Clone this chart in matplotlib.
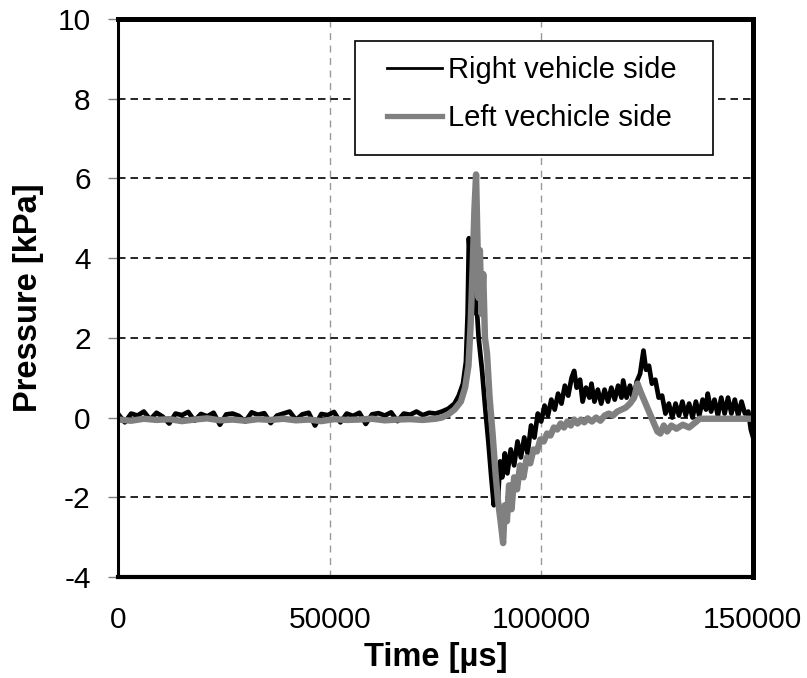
import numpy as np
import matplotlib
matplotlib.use("Agg")
from matplotlib import pyplot as plt
from matplotlib.patches import Rectangle

plt.rcParams['font.family'] = ['Liberation Sans', 'DejaVu Sans']

# time in ms (x1000 -> µs)
t_right_ms = [0, 1.5, 3, 4.5, 6, 7.5, 9, 10.5, 12, 13.5,
              15, 16.5, 18, 19.5, 21, 22.5, 24, 25.5, 27, 28.5,
              30, 31.5, 33, 34.5, 36, 37.5, 39, 40.5, 42, 43.5,
              45, 46.5, 48, 49.5, 51, 52.5, 54, 55.5, 57, 58.5,
              60, 61.5, 63, 64.5, 66, 67.5, 69, 70.5, 72, 73.5, 75,
              76.5, 78, 79.5, 80.5, 81.5, 82.2, 82.6, 82.9, 83.3, 83.8,
              84.5, 85.2, 86.0, 86.8, 87.5, 88.2, 88.8, 89.3, 89.8, 90.3,
              90.8, 91.4, 92.0, 92.8, 93.6, 94.4, 95.2, 96.0, 96.8, 97.6,
              98.4, 99.2, 100.0, 100.8, 101.6, 102.4, 103.2, 104.0, 104.8, 105.6,
              106.4, 107.2, 107.8, 108.4, 109.2, 109.8, 110.6, 111.4, 111.9, 112.6,
              113.4, 114.2, 115.0, 115.8, 116.6, 117.4, 118.2, 119.0, 119.4, 120.2,
              121.0, 121.8, 122.6, 123.4, 124.2, 124.8, 125.5, 126.2, 127.0, 127.8,
              128.6, 129.4, 130.2, 131.0, 131.8, 132.6, 133.4, 134.2, 135.0, 135.8,
              136.6, 137.4, 138.2, 139.0, 139.4, 140.2, 141.0, 141.8, 142.6, 143.4,
              144.2, 145.0, 145.8, 146.6, 147.4, 148.2, 149.0, 149.6, 150.0]
p_right = [0.08, -0.12, 0.10, 0.05, 0.15, -0.05, 0.12, 0.02, -0.15, 0.10,
           0.06, 0.14, -0.08, 0.09, 0.03, 0.12, -0.18, 0.08, 0.10, 0.04,
           -0.10, 0.13, 0.07, 0.11, -0.14, 0.05, 0.10, 0.15, -0.06, 0.08,
           0.12, -0.20, 0.09, 0.06, 0.14, -0.12, 0.10, 0.04, 0.12, -0.16,
           0.08, 0.11, 0.05, 0.13, -0.09, 0.10, 0.07, 0.15, 0.06, 0.12, 0.10,
           0.15, 0.22, 0.35, 0.55, 0.85, 1.4, 2.6, 4.5, 3.8, 2.6,
           3.2, 2.0, 1.2, 0.2, -0.6, -1.5, -2.2, -1.4, -2.0, -1.1,
           -1.5, -0.9, -1.4, -0.8, -1.2, -0.6, -1.0, -0.5, -0.9, -0.2,
           -0.5, 0.1, -0.1, 0.3, 0.05, 0.45, 0.2, 0.6, 0.35, 0.8,
           0.55, 1.0, 1.17, 0.75, 0.95, 0.4, 0.75, 0.5, 0.85, 0.4,
           0.7, 0.35, 0.7, 0.4, 0.75, 0.45, 0.8, 0.5, 0.93, 0.5,
           0.8, 0.45, 0.9, 1.1, 1.68, 1.2, 1.3, 0.85, 0.95, 0.5,
           0.55, 0.1, 0.35, 0.0, 0.35, 0.05, 0.4, 0.05, 0.35, 0.0,
           0.4, 0.05, 0.45, 0.2, 0.6, 0.15, 0.45, 0.05, 0.5, 0.1,
           0.5, 0.1, 0.45, 0.05, 0.4, 0.1, 0.15, -0.3, -0.45]

t_left_ms = [0, 3, 6, 9, 12, 15, 18, 21, 24, 27,
             30, 33, 36, 39, 42, 45, 48, 51, 54, 57,
             60, 63, 66, 69, 72, 75,
             76.5, 78, 79.5, 81, 82, 82.8, 83.3, 83.8, 84.2, 84.6,
             84.9, 85.2, 85.5, 85.9, 86.3, 86.7, 87.2, 87.8, 88.5, 89.2,
             89.8, 90.4, 91.0, 91.4, 91.9, 92.4, 93.0, 93.6, 94.3, 95.0,
             95.8, 96.6, 97.4, 98.2, 99.0, 99.8, 100.6, 101.4, 102.2, 103.0,
             103.8, 104.6, 105.4, 106.2, 107.0, 107.8, 108.6, 109.4, 110.2, 111.0,
             112.0, 113.0, 114.0, 115.0, 116.0, 117.0, 118.0, 119.0, 120.0, 121.0,
             122.0, 122.8, 123.5, 124.5, 125.5, 126.5, 127.5, 128.2, 129.0, 129.8,
             130.8, 132.0, 133.5, 135.0, 136.5, 137.5, 150.0]
p_left = [-0.05, -0.08, -0.03, -0.06, -0.04, -0.09, -0.05, -0.02, -0.07, -0.05,
          -0.08, -0.04, -0.06, -0.03, -0.07, -0.05, -0.09, -0.04, -0.06, -0.05,
          -0.03, -0.07, -0.05, -0.04, -0.06, -0.03,
          0.0, 0.08, 0.2, 0.4, 0.75, 1.3, 2.3, 3.8, 5.2, 6.1,
          4.6, 3.0, 4.2, 2.6, 3.6, 2.0, 1.6, 0.5, -0.4, -1.4,
          -2.1, -2.6, -3.15, -2.2, -2.6, -1.7, -2.3, -1.5, -1.8, -1.2,
          -1.5, -1.0, -1.15, -0.8, -0.85, -0.55, -0.6, -0.4, -0.45, -0.25,
          -0.3, -0.15, -0.25, -0.1, -0.2, -0.05, -0.15, -0.05, -0.12, -0.02,
          -0.1, 0.0, -0.08, 0.05, 0.1, 0.05, 0.15, 0.2, 0.25, 0.35,
          0.5, 0.85, 0.65, 0.4, 0.15, -0.1, -0.35, -0.4, -0.2, -0.35,
          -0.2, -0.28, -0.18, -0.25, -0.12, -0.03, -0.03]

x_ticks = [0, 50000, 100000, 150000]
x_tick_labels = ['0', '50000', '100000', '150000']
y_ticks = [-4, -2, 0, 2, 4, 6, 8, 10]
y_tick_labels = ['-4', '-2', '0', '2', '4', '6', '8', '10']

t_right = np.array(t_right_ms) * 1000
t_left = np.array(t_left_ms) * 1000

fig = plt.figure(figsize=(8.07, 6.78), dpi=100)
ax = fig.add_axes([0.1468, 0.149, 0.7857, 0.823])

ax.plot(t_right, p_right, color='black', lw=3.4, label='Right vehicle side', zorder=2)
ax.plot(t_left, p_left, color='#808080', lw=4.6, label='Left vechicle side', zorder=2.1)

ax.set_xlim(0, 150000)
ax.set_ylim(-4, 10)
ax.set_xticks(x_ticks, x_tick_labels)
ax.set_yticks(y_ticks, y_tick_labels)
ax.tick_params(axis='x', length=0, pad=21, labelsize=21.5)
ax.tick_params(axis='y', direction='out', length=7, width=1, color='#808080',
               pad=13, labelsize=21.5)

ax.yaxis.grid(True, color='black', lw=1.2, linestyle=(0, (4.5, 3)))
ax.xaxis.grid(True, color='#999999', lw=1.0, linestyle=(0, (5, 4)))
ax.set_axisbelow(True)

for side, w in [('top', 3.6), ('right', 3.6), ('left', 2.2), ('bottom', 3.0)]:
    ax.spines[side].set_linewidth(w)
    ax.spines[side].set_color('black')

ax.set_xlabel('Time [µs]', fontsize=23.5, fontweight='bold', labelpad=6)
ax.set_ylabel('Pressure [kPa]', fontsize=23.5, fontweight='bold', labelpad=10)

# legend box
ax.add_patch(Rectangle((0.373, 0.7563), 0.5647, 0.2043, transform=ax.transAxes,
                       facecolor='white', edgecolor='black', lw=1.2, zorder=4))
leg = ax.legend(loc='upper left', bbox_to_anchor=(0.4235, 0.9337), frameon=False,
                fontsize=21, borderpad=0, borderaxespad=0, handlelength=1.9,
                handletextpad=0.2, labelspacing=0.7)
leg.set_zorder(5)
leg.get_lines()[0].set_linewidth(2.0)
leg.get_lines()[1].set_linewidth(3.8)

fig.savefig('out.png', dpi=100)
